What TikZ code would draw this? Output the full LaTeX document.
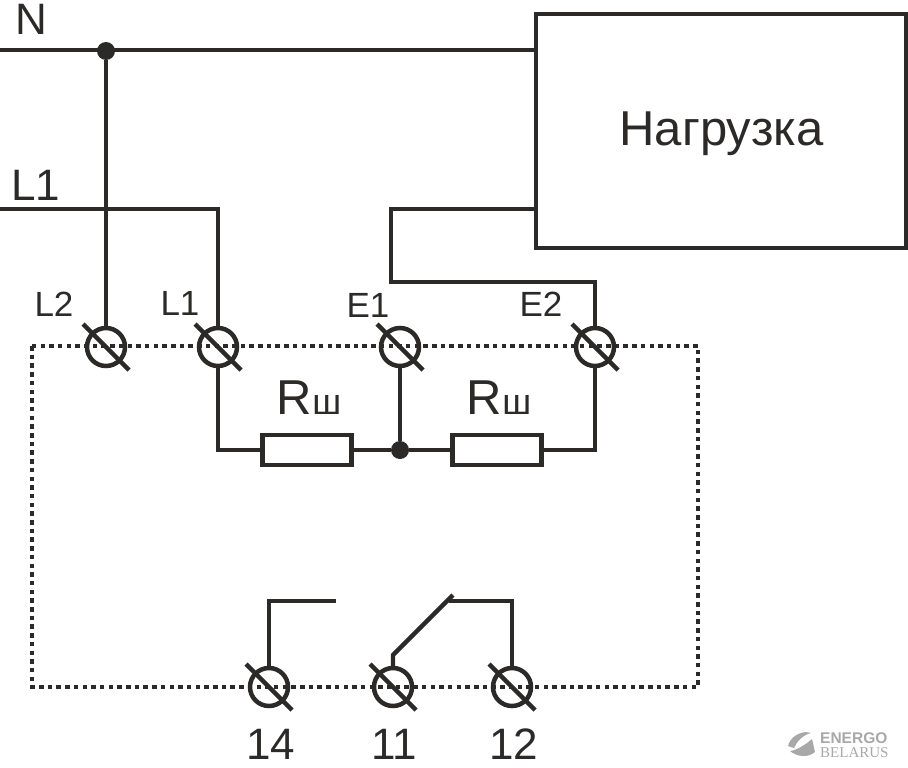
\documentclass[tikz,border=0pt]{standalone}
\usepackage{fontspec}
\setmainfont{Liberation Sans}
\newfontfamily\logoserif{Liberation Serif}
\usetikzlibrary{positioning, calc}
\definecolor{WireDark}{HTML}{2B2A29}
\definecolor{LogoGray}{HTML}{A8A8A8}
\tikzset{
  % Box styles
  loadbox/.style={rectangle, draw=WireDark, line width=4.3pt, minimum width=370pt, minimum height=234pt, inner sep=0pt, text=WireDark},
  resistor/.style={rectangle, draw=WireDark, line width=4.3pt, minimum width=89pt, minimum height=30pt, inner sep=0pt},
  % Arrow styles
  wire/.style={draw=WireDark, line width=4.3pt, line join=miter},
  dotline/.style={draw=WireDark, line width=4.5pt, dash pattern=on 4.5pt off 4.2pt},
  % Node styles
  terminal/.style={circle, draw=WireDark, line width=4.5pt, minimum size=38pt, inner sep=0pt},
  junction/.style={circle, fill=WireDark, minimum size=18pt, inner sep=0pt},
  smalllabel/.style={font=\fontsize{35}{35}\selectfont, text=WireDark, inner sep=0pt},
  biglabel/.style={font=\fontsize{44}{44}\selectfont, text=WireDark, inner sep=0pt}
}
\begin{document}
\begin{tikzpicture}[x=1pt, y=-1pt]
  \useasboundingbox (0,0) rectangle (908,768);

  % Housing
  \coordinate (hl) at (32,346);
  \coordinate (hr) at (698,687);
  \draw[dotline] (hl) rectangle (hr);

  % Load
  \node[loadbox] (load) at (721,131) {};
  \node[font=\fontsize{49}{49}\selectfont, text=WireDark, inner sep=0pt] (loadtext) at (721.5,134) {Нагрузка};

  % Terminals
  \foreach \name/\x/\y in {tl2/106/347, tl1/218/347, te1/400/347, te2/595/347, t14/269/687, t11/393/687, t12/512/687} {
    \node[terminal] (\name) at (\x,\y) {};
    \draw[wire] (\name.center) ++(-23,-23) -- ++(46,46);
  }

  % Terminal labels
  \node[smalllabel] (ll2) at (54,304) {L2};
  \node[smalllabel] (ll1) at (180,303) {L1};
  \node[smalllabel] (le1) at (368,305) {E1};
  \node[smalllabel] (le2) at (541,304) {E2};
  \node[biglabel] (l14) at (271,744.5) {14};
  \node[biglabel] (l11) at (394,744.5) {11};
  \node[biglabel] (l12) at (514,744) {12};

  % Supply lines
  \coordinate (nstart) at (0,50);
  \coordinate (lstart) at (0,209);
  \node[biglabel] (nlabel) at (31,19) {N};
  \node[biglabel] (llabel) at (36,185) {L1};
  \node[junction] (jn) at (106,51) {};
  \draw[wire] (nstart) -- (nstart -| load.west);
  \draw[wire] (jn) -- (tl2);
  \draw[wire] (lstart) -| (tl1);

  % Load return
  \coordinate (ret) at (391,209);
  \coordinate (retb) at (391,282);
  \draw[wire] (ret -| load.west) -- (ret) -- (retb) -| (te2);

  % Shunts
  \node[resistor] (r1) at (307,450) {};
  \node[resistor] (r2) at (497,450) {};
  \node[junction] (jr) at (400,450) {};
  \node[text=WireDark, inner sep=0pt] (lr1) at (309,398) {\fontsize{49}{49}\selectfont R\fontsize{36}{36}\selectfont ш};
  \node[text=WireDark, inner sep=0pt] (lr2) at (499,398) {\fontsize{49}{49}\selectfont R\fontsize{36}{36}\selectfont ш};
  \draw[wire] (tl1) |- (r1);
  \draw[wire] (r1) -- (jr) -- (r2);
  \draw[wire] (r2) -| (te2);
  \draw[wire] (te1) -- (jr);

  % Contacts
  \coordinate (c14) at (336,601);
  \coordinate (c12) at (449,601);
  \coordinate (c11a) at (393,655);
  \coordinate (c11b) at (453,595);
  \draw[wire] (t14) |- (c14);
  \draw[wire] (t12) |- (c12);
  \draw[wire] (t11) -- (c11a) -- (c11b);

  % Logo
  \fill[LogoGray] (788,746) .. controls (790,738) and (797,733) .. (806,732) -- (811,733) .. controls (803,735) and (797,741) .. (794,748) -- cycle;
  \fill[LogoGray] (790,751) .. controls (797,750) and (805,745) .. (812,739) -- (815,752) .. controls (808,758) and (797,757) .. (790,751) -- cycle;
  \node[font=\fontsize{15.5}{15.5}\selectfont\bfseries, text=LogoGray, inner sep=0pt, anchor=west] (lgtop) at (820,738.5) {ENERGO};
  \node[font=\logoserif\fontsize{15}{15}\selectfont, text=LogoGray, inner sep=0pt, anchor=west] (lgbot) at (820,753) {BELARUS};
\end{tikzpicture}
\end{document}
